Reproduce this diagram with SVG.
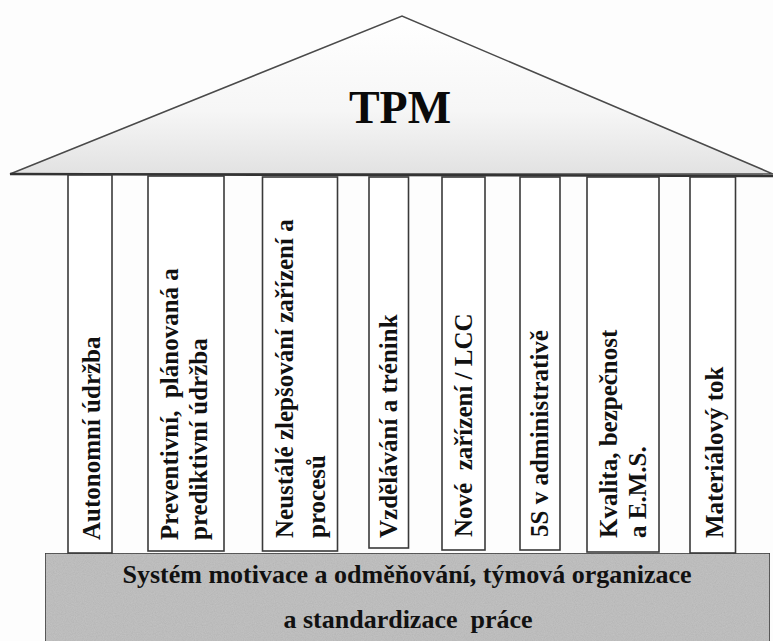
<svg xmlns="http://www.w3.org/2000/svg" width="773" height="641" viewBox="0 0 773 641">
<defs>
<linearGradient id="roofGrad" x1="0" y1="0" x2="0" y2="1">
<stop offset="0" stop-color="#ffffff"/>
<stop offset="0.6" stop-color="#f6f6f6"/>
<stop offset="1" stop-color="#e2e2e2"/>
</linearGradient>
<filter id="grain" x="0" y="0" width="100%" height="100%">
<feTurbulence type="fractalNoise" baseFrequency="0.9" numOctaves="2" seed="3" result="n"/>
<feColorMatrix in="n" type="matrix" values="0 0 0 0 0.5  0 0 0 0 0.5  0 0 0 0 0.5  0 0 0 0.35 0" result="g"/>
<feComposite in="g" in2="SourceGraphic" operator="in" result="gi"/>
<feBlend in="SourceGraphic" in2="gi" mode="multiply"/>
</filter>
</defs>
<style>
.pillar{fill:#ffffff;stroke:#3a3a3a;stroke-width:1.6}
.pt{font-family:"Liberation Serif","Times New Roman",serif;font-weight:bold;font-size:25px;fill:#111;white-space:pre}
.bt{font-family:"Liberation Serif","Times New Roman",serif;font-weight:bold;font-size:26px;fill:#111;text-anchor:middle;white-space:pre}
</style>
<rect x="0" y="0" width="773" height="641" fill="#fdfdfd"/>

<g id="roof">
<polygon points="10,174 402,16 773,174" fill="url(#roofGrad)" stroke="#4a4a4a" stroke-width="1.5" stroke-linejoin="miter"/>
<line x1="10" y1="174" x2="773" y2="176" stroke="#333" stroke-width="2.5"/>
<text x="400" y="123" font-family="'Liberation Serif','Times New Roman',serif" font-weight="bold" font-size="46" text-anchor="middle" fill="#0a0a0a">TPM</text>
</g>

<g id="base">
<rect x="45" y="553" width="725" height="90" fill="#c4c4c4" stroke="#3a3a3a" stroke-width="1.5" filter="url(#grain)"/>
<text class="bt" x="407" y="583">Systém motivace a odměňování, týmová organizace</text>
<text class="bt" x="408" y="628">a standardizace  práce</text>
</g>

<g id="pillar1">
<rect class="pillar" x="68" y="175" width="44" height="378"/>
<text class="pt" transform="translate(100,540) rotate(-90)">Autonomní údržba</text>
</g>
<g id="pillar2">
<rect class="pillar" x="148" y="176" width="76" height="375"/>
<text class="pt" transform="translate(178,540) rotate(-90)">Preventivní,  plánovaná a</text>
<text class="pt" transform="translate(207,540) rotate(-90)">prediktivní údržba</text>
</g>
<g id="pillar3">
<rect class="pillar" x="262.5" y="177" width="75" height="374"/>
<text class="pt" transform="translate(293,538) rotate(-90)">Neustálé zlepšování zařízení a</text>
<text class="pt" transform="translate(325,538) rotate(-90)">procesů</text>
</g>
<g id="pillar4">
<rect class="pillar" x="369" y="177" width="39.5" height="371"/>
<text class="pt" transform="translate(397,538) rotate(-90)">Vzdělávání a trénink</text>
</g>
<g id="pillar5">
<rect class="pillar" x="442" y="177" width="43" height="373"/>
<text class="pt" transform="translate(472,537) rotate(-90)">Nové  zařízení / LCC</text>
</g>
<g id="pillar6">
<rect class="pillar" x="520" y="177" width="40" height="373"/>
<text class="pt" transform="translate(548,537) rotate(-90)">5S v administrativě</text>
</g>
<g id="pillar7">
<rect class="pillar" x="587" y="177" width="72" height="375"/>
<text class="pt" transform="translate(617,538) rotate(-90)">Kvalita, bezpečnost</text>
<text class="pt" transform="translate(646,538) rotate(-90)">a E.M.S.</text>
</g>
<g id="pillar8">
<rect class="pillar" x="690" y="177" width="45.5" height="376"/>
<text class="pt" transform="translate(723,538) rotate(-90)">Materiálový tok</text>
</g>
<g id="connectors"></g>
</svg>
